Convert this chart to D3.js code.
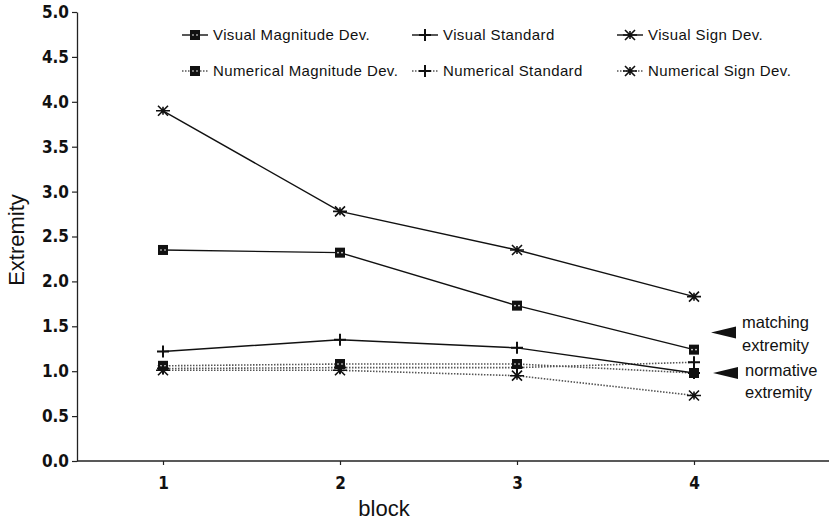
<!DOCTYPE html>
<html><head><meta charset="utf-8">
<script src="https://cdn.jsdelivr.net/npm/d3@7"></script>
<style>
html,body{margin:0;padding:0;background:#fff;}
svg{display:block;}
</style></head>
<body>
<svg id="chart" width="829" height="524"></svg>
<script>
const blocks = [1, 2, 3, 4];
const visualMagnitude = [2.35, 2.32, 1.73, 1.24];
const visualStandard = [1.22, 1.35, 1.26, 0.98];
const visualSign = [3.90, 2.78, 2.35, 1.83];
const numericalMagnitude = [1.06, 1.08, 1.08, 0.98];
const numericalStandard = [1.03, 1.04, 1.04, 1.10];
const numericalSign = [1.01, 1.01, 0.95, 0.73];
const yTicks = [0, 0.5, 1, 1.5, 2, 2.5, 3, 3.5, 4, 4.5, 5];
const seriesNames = ["Visual Magnitude Dev.", "Visual Standard", "Visual Sign Dev.",
  "Numerical Magnitude Dev.", "Numerical Standard", "Numerical Sign Dev."];
const markerKinds = ["square", "plus", "star", "square", "plus", "star"];
const dashed = [false, false, false, true, true, true];
const seriesValues = [visualMagnitude, visualStandard, visualSign, numericalMagnitude, numericalStandard, numericalSign];
const refLabels = [["matching", "extremity"], ["normative", "extremity"]];
const refValues = [1.43, 0.98];

const svg = d3.select("#chart");
const x = d3.scaleLinear().domain([1, 4]).range([163, 694]);
const y = d3.scaleLinear().domain([0, 5]).range([461, 12]);
const axisX0 = 77;
const tickFont = "'DejaVu Sans Condensed', 'DejaVu Sans', sans-serif";
const textFont = "'Liberation Sans', Arial, sans-serif";

// Y axis
const yAxis = d3.axisLeft(y).tickValues(yTicks).tickFormat(d3.format(".1f")).tickSize(5).tickSizeOuter(0);
const gy = svg.append("g").attr("transform", `translate(${axisX0},0)`).call(yAxis);
gy.select(".domain").attr("stroke", "#222").attr("stroke-width", 1.3);
gy.selectAll(".tick line").attr("stroke", "#222").attr("stroke-width", 1.2);
gy.selectAll(".tick text").attr("font-family", tickFont)
  .attr("font-weight", "bold").attr("font-size", 17).attr("fill", "#111").attr("x", -8);

// X axis
const xAxis = d3.axisBottom(x).tickValues(blocks).tickFormat(d3.format("d")).tickSize(4).tickSizeOuter(0);
const gx = svg.append("g").attr("transform", `translate(0,${y(0)})`).call(xAxis);
gx.select(".domain").attr("d", `M${axisX0},0H829`).attr("stroke", "#222").attr("stroke-width", 1.3);
gx.selectAll(".tick line").attr("stroke", "#222").attr("stroke-width", 1.2);
gx.selectAll(".tick text").attr("font-family", tickFont)
  .attr("font-weight", "bold").attr("font-size", 17).attr("fill", "#111").attr("dy", "1.25em");

// Axis titles
svg.append("text").attr("x", 384).attr("y", 516).attr("text-anchor", "middle")
  .attr("font-family", textFont).attr("font-size", 22).attr("fill", "#111").text("block");
svg.append("text").attr("transform", "translate(24,240) rotate(-90)").attr("text-anchor", "middle")
  .attr("font-family", textFont).attr("font-size", 22).attr("fill", "#111").text("Extremity");

function drawMarker(g, kind, cx, cy) {
  if (kind === "square") {
    g.append("rect").attr("x", cx - 5).attr("y", cy - 5).attr("width", 10).attr("height", 10).attr("fill", "#111");
    g.append("circle").attr("cx", cx - 2).attr("cy", cy).attr("r", 0.8).attr("fill", "#fff");
    g.append("circle").attr("cx", cx + 2).attr("cy", cy).attr("r", 0.8).attr("fill", "#fff");
  } else if (kind === "plus") {
    g.append("path").attr("d", `M${cx - 6},${cy}H${cx + 6}M${cx},${cy - 6}V${cy + 6}`)
      .attr("stroke", "#111").attr("stroke-width", 2).attr("fill", "none");
  } else {
    g.append("path").attr("d", `M${cx - 7},${cy}H${cx + 7}M${cx - 5},${cy - 5}L${cx + 5},${cy + 5}M${cx - 5},${cy + 5}L${cx + 5},${cy - 5}M${cx},${cy - 4}V${cy + 4}`)
      .attr("stroke", "#111").attr("stroke-width", 1.6).attr("fill", "none");
  }
}

const line = d3.line().x((d, i) => x(blocks[i])).y(d => y(d));

// draw numerical (dotted) first, then visual
const order = [3, 4, 5, 0, 1, 2];
order.forEach(k => {
  svg.append("path").attr("d", line(seriesValues[k])).attr("fill", "none")
    .attr("stroke", dashed[k] ? "#555" : "#111")
    .attr("stroke-width", dashed[k] ? 1.6 : 1.4)
    .attr("stroke-dasharray", dashed[k] ? "1.5,1.5" : null);
});
order.forEach(k => {
  const g = svg.append("g");
  seriesValues[k].forEach((v, i) => drawMarker(g, markerKinds[k], x(blocks[i]), y(v)));
});

// Legend
const legX = [195, 425, 630];
const legY = [35, 71];
seriesNames.forEach((name, k) => {
  const col = k % 3, row = Math.floor(k / 3);
  const cx = legX[col], cy = legY[row];
  const g = svg.append("g");
  g.append("path").attr("d", `M${cx - 13},${cy}H${cx + 13}`).attr("fill", "none")
    .attr("stroke", dashed[k] ? "#555" : "#111").attr("stroke-width", 1.4)
    .attr("stroke-dasharray", dashed[k] ? "1.5,1.5" : null);
  drawMarker(g, markerKinds[k], cx, cy);
  g.append("text").attr("x", cx + 18).attr("y", cy).attr("dy", "0.35em")
    .attr("font-family", textFont).attr("font-size", 15).attr("letter-spacing", 0.4)
    .attr("fill", "#111").text(name);
});

// Reference arrows
const refTextOffsets = [[-10, 13], [-3, 19]];
refValues.forEach((v, j) => {
  const ty = y(v);
  const tipX = 711 + j * 2;
  svg.append("path").attr("d", `M${tipX},${ty}L${tipX + 25},${ty - 6}L${tipX + 25},${ty + 6}Z`).attr("fill", "#111");
  refLabels[j].forEach((t, m) => {
    svg.append("text").attr("x", 742 + j * 3).attr("y", ty + refTextOffsets[j][m]).attr("dy", "0.35em")
      .attr("font-family", textFont).attr("font-size", 16.5).attr("fill", "#111").text(t);
  });
});
</script>
</body></html>
